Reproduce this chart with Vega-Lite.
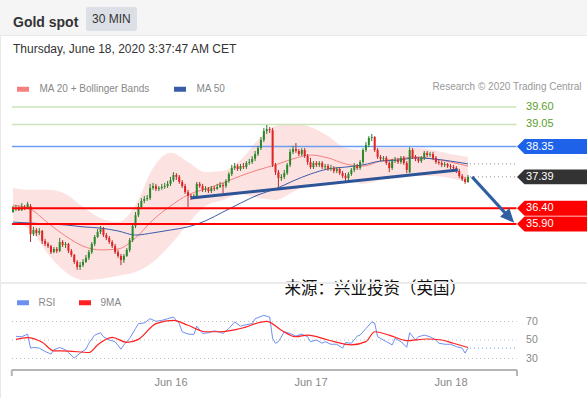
{
"$schema":"https://vega.github.io/schema/vega-lite/v6.json",
"width":587,"height":363,
"autosize":{"type":"none"},
"padding":{"left":0,"top":35,"right":0,"bottom":0},
"background":"#f5f5f5",
"title":{"text":"Gold spot","subtitle":"Thursday, June 18, 2020 3:37:47 AM CET","anchor":"start","frame":"group","dx":13,"offset":-48,"fontSize":14,"fontWeight":"bold","color":"#333333","subtitleFontSize":12,"subtitleColor":"#333333","subtitlePadding":14,"font":"Liberation Sans","subtitleFont":"Liberation Sans"},
"datasets":{
"candles":[
{"t":"2020-06-14T21:00","o":36.28,"h":36.47,"l":36.25,"c":36.37},
{"t":"2020-06-14T21:30","o":36.37,"h":36.50,"l":36.31,"c":36.41},
{"t":"2020-06-14T22:00","o":36.41,"h":36.47,"l":36.31,"c":36.34},
{"t":"2020-06-14T22:30","o":36.34,"h":36.56,"l":36.31,"c":36.44},
{"t":"2020-06-14T23:00","o":36.44,"h":36.50,"l":36.34,"c":36.41},
{"t":"2020-06-14T23:30","o":36.41,"h":36.60,"l":36.37,"c":36.53},
{"t":"2020-06-15T00:00","o":36.47,"h":36.53,"l":35.33,"c":35.58},
{"t":"2020-06-15T00:30","o":35.58,"h":35.81,"l":35.52,"c":35.71},
{"t":"2020-06-15T01:00","o":35.71,"h":35.77,"l":35.52,"c":35.62},
{"t":"2020-06-15T01:30","o":35.62,"h":35.77,"l":35.55,"c":35.68},
{"t":"2020-06-15T02:00","o":35.68,"h":35.71,"l":35.27,"c":35.36},
{"t":"2020-06-15T02:30","o":35.36,"h":35.43,"l":35.20,"c":35.27},
{"t":"2020-06-15T03:00","o":35.27,"h":35.33,"l":35.14,"c":35.20},
{"t":"2020-06-15T03:30","o":35.20,"h":35.24,"l":34.95,"c":35.01},
{"t":"2020-06-15T04:00","o":35.01,"h":35.17,"l":34.98,"c":35.11},
{"t":"2020-06-15T04:30","o":35.11,"h":35.17,"l":34.98,"c":35.05},
{"t":"2020-06-15T05:00","o":35.05,"h":35.46,"l":35.01,"c":35.33},
{"t":"2020-06-15T05:30","o":35.33,"h":35.39,"l":35.17,"c":35.24},
{"t":"2020-06-15T06:00","o":35.24,"h":35.33,"l":35.14,"c":35.27},
{"t":"2020-06-15T06:30","o":35.27,"h":35.30,"l":34.98,"c":35.05},
{"t":"2020-06-15T07:00","o":35.05,"h":35.11,"l":34.86,"c":34.92},
{"t":"2020-06-15T07:30","o":34.92,"h":34.95,"l":34.64,"c":34.70},
{"t":"2020-06-15T08:00","o":34.70,"h":34.76,"l":34.45,"c":34.54},
{"t":"2020-06-15T08:30","o":34.54,"h":34.70,"l":34.45,"c":34.60},
{"t":"2020-06-15T09:00","o":34.60,"h":34.79,"l":34.54,"c":34.70},
{"t":"2020-06-15T09:30","o":34.70,"h":34.92,"l":34.67,"c":34.83},
{"t":"2020-06-15T10:00","o":34.83,"h":35.08,"l":34.76,"c":35.01},
{"t":"2020-06-15T10:30","o":35.01,"h":35.33,"l":34.95,"c":35.27},
{"t":"2020-06-15T11:00","o":35.27,"h":35.55,"l":35.20,"c":35.49},
{"t":"2020-06-15T11:30","o":35.49,"h":35.74,"l":35.46,"c":35.65},
{"t":"2020-06-15T12:00","o":35.65,"h":35.84,"l":35.58,"c":35.74},
{"t":"2020-06-15T12:30","o":35.74,"h":35.81,"l":35.49,"c":35.55},
{"t":"2020-06-15T13:00","o":35.55,"h":35.62,"l":35.39,"c":35.46},
{"t":"2020-06-15T13:30","o":35.46,"h":35.52,"l":35.27,"c":35.33},
{"t":"2020-06-15T14:00","o":35.33,"h":35.39,"l":35.14,"c":35.20},
{"t":"2020-06-15T14:30","o":35.20,"h":35.27,"l":34.95,"c":35.01},
{"t":"2020-06-15T15:00","o":35.01,"h":35.08,"l":34.83,"c":34.89},
{"t":"2020-06-15T15:30","o":34.89,"h":34.95,"l":34.60,"c":34.76},
{"t":"2020-06-15T16:00","o":34.76,"h":34.95,"l":34.67,"c":34.89},
{"t":"2020-06-15T16:30","o":34.89,"h":35.14,"l":34.86,"c":35.08},
{"t":"2020-06-15T17:00","o":35.08,"h":35.46,"l":35.01,"c":35.39},
{"t":"2020-06-15T17:30","o":35.39,"h":35.90,"l":35.33,"c":35.84},
{"t":"2020-06-15T18:00","o":35.84,"h":36.28,"l":35.77,"c":36.18},
{"t":"2020-06-15T18:30","o":36.18,"h":36.56,"l":36.12,"c":36.44},
{"t":"2020-06-15T19:00","o":36.44,"h":36.72,"l":36.37,"c":36.63},
{"t":"2020-06-15T19:30","o":36.63,"h":36.79,"l":36.56,"c":36.69},
{"t":"2020-06-15T20:00","o":36.69,"h":36.82,"l":36.63,"c":36.72},
{"t":"2020-06-15T20:30","o":36.72,"h":37.17,"l":36.66,"c":37.04},
{"t":"2020-06-15T21:00","o":37.04,"h":37.20,"l":36.98,"c":37.10},
{"t":"2020-06-15T21:30","o":37.10,"h":37.17,"l":36.94,"c":37.01},
{"t":"2020-06-15T22:00","o":37.01,"h":37.10,"l":36.94,"c":37.04},
{"t":"2020-06-15T22:30","o":37.04,"h":37.17,"l":36.98,"c":37.07},
{"t":"2020-06-15T23:00","o":37.07,"h":37.20,"l":37.01,"c":37.10},
{"t":"2020-06-15T23:30","o":37.10,"h":37.26,"l":37.04,"c":37.17},
{"t":"2020-06-16T00:00","o":37.17,"h":37.39,"l":37.10,"c":37.29},
{"t":"2020-06-16T00:30","o":37.29,"h":37.54,"l":37.23,"c":37.45},
{"t":"2020-06-16T01:00","o":37.45,"h":37.51,"l":37.29,"c":37.39},
{"t":"2020-06-16T01:30","o":37.39,"h":37.45,"l":37.17,"c":37.23},
{"t":"2020-06-16T02:00","o":37.23,"h":37.29,"l":37.04,"c":37.10},
{"t":"2020-06-16T02:30","o":37.10,"h":37.17,"l":36.85,"c":36.91},
{"t":"2020-06-16T03:00","o":36.91,"h":36.98,"l":36.44,"c":36.79},
{"t":"2020-06-16T03:30","o":36.79,"h":36.85,"l":36.66,"c":36.75},
{"t":"2020-06-16T04:00","o":36.75,"h":36.85,"l":36.69,"c":36.79},
{"t":"2020-06-16T04:30","o":36.79,"h":37.23,"l":36.72,"c":37.17},
{"t":"2020-06-16T05:00","o":37.17,"h":37.23,"l":37.04,"c":37.10},
{"t":"2020-06-16T05:30","o":37.10,"h":37.17,"l":36.91,"c":36.98},
{"t":"2020-06-16T06:00","o":36.98,"h":37.10,"l":36.91,"c":37.01},
{"t":"2020-06-16T06:30","o":37.01,"h":37.07,"l":36.88,"c":36.94},
{"t":"2020-06-16T07:00","o":36.94,"h":37.10,"l":36.88,"c":37.04},
{"t":"2020-06-16T07:30","o":37.04,"h":37.10,"l":36.94,"c":37.01},
{"t":"2020-06-16T08:00","o":37.01,"h":37.17,"l":36.98,"c":37.07},
{"t":"2020-06-16T08:30","o":37.07,"h":37.23,"l":37.04,"c":37.13},
{"t":"2020-06-16T09:00","o":37.13,"h":37.20,"l":36.88,"c":37.10},
{"t":"2020-06-16T09:30","o":37.10,"h":37.32,"l":37.04,"c":37.26},
{"t":"2020-06-16T10:00","o":37.26,"h":37.54,"l":37.20,"c":37.48},
{"t":"2020-06-16T10:30","o":37.48,"h":37.77,"l":37.42,"c":37.67},
{"t":"2020-06-16T11:00","o":37.67,"h":37.83,"l":37.61,"c":37.73},
{"t":"2020-06-16T11:30","o":37.73,"h":37.80,"l":37.58,"c":37.64},
{"t":"2020-06-16T12:00","o":37.64,"h":37.80,"l":37.58,"c":37.73},
{"t":"2020-06-16T12:30","o":37.73,"h":37.83,"l":37.64,"c":37.70},
{"t":"2020-06-16T13:00","o":37.70,"h":37.89,"l":37.64,"c":37.83},
{"t":"2020-06-16T13:30","o":37.83,"h":37.96,"l":37.77,"c":37.86},
{"t":"2020-06-16T14:00","o":37.86,"h":38.05,"l":37.80,"c":37.96},
{"t":"2020-06-16T14:30","o":37.96,"h":38.21,"l":37.89,"c":38.11},
{"t":"2020-06-16T15:00","o":38.11,"h":38.37,"l":38.05,"c":38.30},
{"t":"2020-06-16T15:30","o":38.30,"h":38.65,"l":38.24,"c":38.56},
{"t":"2020-06-16T16:00","o":38.56,"h":38.94,"l":38.49,"c":38.84},
{"t":"2020-06-16T16:30","o":38.84,"h":39.03,"l":38.75,"c":38.90},
{"t":"2020-06-16T17:00","o":38.90,"h":38.97,"l":38.78,"c":38.87},
{"t":"2020-06-16T17:30","o":38.87,"h":38.94,"l":37.70,"c":37.77},
{"t":"2020-06-16T18:00","o":37.77,"h":37.83,"l":37.45,"c":37.54},
{"t":"2020-06-16T18:30","o":37.54,"h":37.61,"l":37.07,"c":37.35},
{"t":"2020-06-16T19:00","o":37.35,"h":37.48,"l":37.26,"c":37.39},
{"t":"2020-06-16T19:30","o":37.39,"h":37.61,"l":37.32,"c":37.51},
{"t":"2020-06-16T20:00","o":37.51,"h":37.83,"l":37.45,"c":37.77},
{"t":"2020-06-16T20:30","o":37.77,"h":38.27,"l":37.70,"c":38.18},
{"t":"2020-06-16T21:00","o":38.18,"h":38.37,"l":38.11,"c":38.27},
{"t":"2020-06-16T21:30","o":38.27,"h":38.46,"l":38.15,"c":38.21},
{"t":"2020-06-16T22:00","o":38.21,"h":38.27,"l":38.05,"c":38.11},
{"t":"2020-06-16T22:30","o":38.11,"h":38.30,"l":38.05,"c":38.24},
{"t":"2020-06-16T23:00","o":38.24,"h":38.30,"l":37.99,"c":38.05},
{"t":"2020-06-16T23:30","o":38.05,"h":38.11,"l":37.77,"c":37.86},
{"t":"2020-06-17T00:00","o":37.86,"h":37.99,"l":37.64,"c":37.70},
{"t":"2020-06-17T00:30","o":37.70,"h":37.89,"l":37.64,"c":37.83},
{"t":"2020-06-17T01:00","o":37.83,"h":37.89,"l":37.70,"c":37.77},
{"t":"2020-06-17T01:30","o":37.77,"h":37.89,"l":37.70,"c":37.83},
{"t":"2020-06-17T02:00","o":37.83,"h":37.89,"l":37.64,"c":37.70},
{"t":"2020-06-17T02:30","o":37.70,"h":37.80,"l":37.61,"c":37.73},
{"t":"2020-06-17T03:00","o":37.73,"h":37.80,"l":37.58,"c":37.64},
{"t":"2020-06-17T03:30","o":37.64,"h":37.77,"l":37.58,"c":37.67},
{"t":"2020-06-17T04:00","o":37.67,"h":37.73,"l":37.51,"c":37.58},
{"t":"2020-06-17T04:30","o":37.58,"h":37.70,"l":37.51,"c":37.64},
{"t":"2020-06-17T05:00","o":37.64,"h":37.70,"l":37.45,"c":37.51},
{"t":"2020-06-17T05:30","o":37.51,"h":37.58,"l":37.35,"c":37.42},
{"t":"2020-06-17T06:00","o":37.42,"h":37.51,"l":37.23,"c":37.35},
{"t":"2020-06-17T06:30","o":37.35,"h":37.54,"l":37.29,"c":37.48},
{"t":"2020-06-17T07:00","o":37.48,"h":37.67,"l":37.42,"c":37.61},
{"t":"2020-06-17T07:30","o":37.61,"h":37.83,"l":37.54,"c":37.73},
{"t":"2020-06-17T08:00","o":37.73,"h":37.80,"l":37.61,"c":37.67},
{"t":"2020-06-17T08:30","o":37.67,"h":37.92,"l":37.61,"c":37.86},
{"t":"2020-06-17T09:00","o":37.86,"h":38.30,"l":37.80,"c":38.24},
{"t":"2020-06-17T09:30","o":38.24,"h":38.49,"l":38.18,"c":38.40},
{"t":"2020-06-17T10:00","o":38.40,"h":38.68,"l":38.33,"c":38.62},
{"t":"2020-06-17T10:30","o":38.62,"h":38.75,"l":38.52,"c":38.65},
{"t":"2020-06-17T11:00","o":38.65,"h":38.68,"l":38.18,"c":38.24},
{"t":"2020-06-17T11:30","o":38.24,"h":38.30,"l":37.96,"c":38.02},
{"t":"2020-06-17T12:00","o":38.02,"h":38.08,"l":37.89,"c":37.96},
{"t":"2020-06-17T12:30","o":37.96,"h":38.05,"l":37.89,"c":37.99},
{"t":"2020-06-17T13:00","o":37.99,"h":38.05,"l":37.77,"c":37.83},
{"t":"2020-06-17T13:30","o":37.83,"h":37.89,"l":37.54,"c":37.67},
{"t":"2020-06-17T14:00","o":37.67,"h":37.96,"l":37.61,"c":37.89},
{"t":"2020-06-17T14:30","o":37.89,"h":38.02,"l":37.83,"c":37.92},
{"t":"2020-06-17T15:00","o":37.92,"h":37.99,"l":37.80,"c":37.86},
{"t":"2020-06-17T15:30","o":37.86,"h":38.05,"l":37.80,"c":37.99},
{"t":"2020-06-17T16:00","o":37.99,"h":38.05,"l":37.77,"c":37.83},
{"t":"2020-06-17T16:30","o":37.83,"h":37.89,"l":37.51,"c":37.61},
{"t":"2020-06-17T17:00","o":37.54,"h":38.33,"l":37.51,"c":38.24},
{"t":"2020-06-17T17:30","o":38.24,"h":38.30,"l":37.96,"c":38.02},
{"t":"2020-06-17T18:00","o":38.02,"h":38.08,"l":37.89,"c":37.96},
{"t":"2020-06-17T18:30","o":37.96,"h":38.02,"l":37.83,"c":37.89},
{"t":"2020-06-17T19:00","o":37.89,"h":38.05,"l":37.83,"c":37.99},
{"t":"2020-06-17T19:30","o":37.99,"h":38.21,"l":37.92,"c":38.15},
{"t":"2020-06-17T20:00","o":38.15,"h":38.21,"l":38.02,"c":38.08},
{"t":"2020-06-17T20:30","o":38.08,"h":38.18,"l":38.02,"c":38.11},
{"t":"2020-06-17T21:00","o":38.11,"h":38.18,"l":37.92,"c":37.99},
{"t":"2020-06-17T21:30","o":37.99,"h":38.05,"l":37.80,"c":37.86},
{"t":"2020-06-17T22:00","o":37.86,"h":37.92,"l":37.77,"c":37.83},
{"t":"2020-06-17T22:30","o":37.83,"h":37.89,"l":37.70,"c":37.77},
{"t":"2020-06-17T23:00","o":37.77,"h":37.86,"l":37.70,"c":37.80},
{"t":"2020-06-17T23:30","o":37.80,"h":37.83,"l":37.67,"c":37.73},
{"t":"2020-06-18T00:00","o":37.73,"h":37.80,"l":37.64,"c":37.70},
{"t":"2020-06-18T00:30","o":37.70,"h":37.77,"l":37.58,"c":37.67},
{"t":"2020-06-18T01:00","o":37.67,"h":37.73,"l":37.51,"c":37.58},
{"t":"2020-06-18T01:30","o":37.58,"h":37.64,"l":37.35,"c":37.42},
{"t":"2020-06-18T02:00","o":37.42,"h":37.48,"l":37.26,"c":37.32},
{"t":"2020-06-18T02:30","o":37.32,"h":37.39,"l":37.17,"c":37.23},
{"t":"2020-06-18T03:00","o":37.23,"h":37.45,"l":37.20,"c":37.39}
],
"bands":[
{"t":"2020-06-14T21:00","up":37.04,"lo":35.96,"ma20":36.50,"ma50":35.96},
{"t":"2020-06-15T00:00","up":36.98,"lo":35.71,"ma20":36.37,"ma50":35.93},
{"t":"2020-06-15T03:00","up":36.98,"lo":34.95,"ma20":35.93,"ma50":35.90},
{"t":"2020-06-15T06:00","up":36.85,"lo":34.38,"ma20":35.52,"ma50":35.87},
{"t":"2020-06-15T09:00","up":36.44,"lo":34.13,"ma20":35.20,"ma50":35.81},
{"t":"2020-06-15T12:00","up":36.09,"lo":34.16,"ma20":35.08,"ma50":35.77},
{"t":"2020-06-15T15:00","up":35.96,"lo":34.26,"ma20":35.11,"ma50":35.68},
{"t":"2020-06-15T18:00","up":36.50,"lo":34.38,"ma20":35.46,"ma50":35.55},
{"t":"2020-06-15T21:00","up":37.67,"lo":34.70,"ma20":36.03,"ma50":35.62},
{"t":"2020-06-16T00:00","up":38.15,"lo":35.24,"ma20":36.47,"ma50":35.71},
{"t":"2020-06-16T03:00","up":37.86,"lo":35.90,"ma20":36.82,"ma50":35.81},
{"t":"2020-06-16T06:00","up":37.54,"lo":36.47,"ma20":37.01,"ma50":36.00},
{"t":"2020-06-16T09:00","up":37.58,"lo":36.66,"ma20":37.20,"ma50":36.28},
{"t":"2020-06-16T12:00","up":37.92,"lo":36.85,"ma20":37.42,"ma50":36.56},
{"t":"2020-06-16T15:00","up":38.56,"lo":36.72,"ma20":37.61,"ma50":36.82},
{"t":"2020-06-16T18:00","up":39.00,"lo":36.66,"ma20":37.77,"ma50":37.01},
{"t":"2020-06-16T21:00","up":39.06,"lo":36.91,"ma20":37.96,"ma50":37.26},
{"t":"2020-06-17T00:00","up":38.97,"lo":37.17,"ma20":38.08,"ma50":37.48},
{"t":"2020-06-17T03:00","up":38.68,"lo":37.23,"ma20":37.99,"ma50":37.64},
{"t":"2020-06-17T06:00","up":38.30,"lo":37.29,"ma20":37.80,"ma50":37.70},
{"t":"2020-06-17T09:00","up":38.24,"lo":37.17,"ma20":37.73,"ma50":37.77},
{"t":"2020-06-17T12:00","up":38.30,"lo":37.29,"ma20":37.89,"ma50":37.89},
{"t":"2020-06-17T15:00","up":38.30,"lo":37.35,"ma20":37.96,"ma50":37.92},
{"t":"2020-06-17T18:00","up":38.30,"lo":37.42,"ma20":38.02,"ma50":37.99},
{"t":"2020-06-17T21:00","up":38.24,"lo":37.42,"ma20":37.96,"ma50":37.96},
{"t":"2020-06-18T00:00","up":38.11,"lo":37.35,"ma20":37.86,"ma50":37.89},
{"t":"2020-06-18T03:00","up":38.02,"lo":37.23,"ma20":37.73,"ma50":37.80}
],
"rsi":[
{"t":"2020-06-14T21:30","rsi":54},{"t":"2020-06-14T22:30","rsi":53.5},{"t":"2020-06-14T23:30","rsi":56.4},
{"t":"2020-06-15T00:00","rsi":41.2},{"t":"2020-06-15T00:30","rsi":42},{"t":"2020-06-15T01:30","rsi":41.2},
{"t":"2020-06-15T02:30","rsi":37.6},{"t":"2020-06-15T03:30","rsi":34.8},{"t":"2020-06-15T04:00","rsi":39.4},
{"t":"2020-06-15T05:00","rsi":41.9},{"t":"2020-06-15T06:00","rsi":39.4},{"t":"2020-06-15T06:30","rsi":36.5},
{"t":"2020-06-15T07:30","rsi":30.5},{"t":"2020-06-15T08:30","rsi":35.8},{"t":"2020-06-15T09:30","rsi":40.1},
{"t":"2020-06-15T10:00","rsi":46.5},{"t":"2020-06-15T11:00","rsi":55.3},{"t":"2020-06-15T12:00","rsi":57.8},
{"t":"2020-06-15T12:30","rsi":53.5},{"t":"2020-06-15T13:30","rsi":50},{"t":"2020-06-15T14:30","rsi":48.2},
{"t":"2020-06-15T15:30","rsi":40.1},{"t":"2020-06-15T16:00","rsi":44.7},{"t":"2020-06-15T17:00","rsi":51.8},
{"t":"2020-06-15T18:00","rsi":62.4},{"t":"2020-06-15T18:30","rsi":67.7},{"t":"2020-06-15T19:30","rsi":68.4},
{"t":"2020-06-15T20:30","rsi":73},{"t":"2020-06-15T21:30","rsi":70.2},{"t":"2020-06-15T22:30","rsi":71.2},
{"t":"2020-06-15T23:30","rsi":73},{"t":"2020-06-16T00:30","rsi":74.8},{"t":"2020-06-16T01:30","rsi":67.7},
{"t":"2020-06-16T02:00","rsi":58.9},{"t":"2020-06-16T03:00","rsi":56.4},{"t":"2020-06-16T04:00","rsi":56},
{"t":"2020-06-16T04:30","rsi":64.9},{"t":"2020-06-16T05:30","rsi":57.1},{"t":"2020-06-16T06:30","rsi":57.8},
{"t":"2020-06-16T07:30","rsi":59.9},{"t":"2020-06-16T08:00","rsi":59.2},{"t":"2020-06-16T09:00","rsi":57.1},
{"t":"2020-06-16T10:00","rsi":62.4},{"t":"2020-06-16T11:00","rsi":69.5},{"t":"2020-06-16T12:00","rsi":64.9},
{"t":"2020-06-16T12:30","rsi":65.9},{"t":"2020-06-16T14:00","rsi":67.7},{"t":"2020-06-16T14:30","rsi":73},
{"t":"2020-06-16T15:30","rsi":75.5},{"t":"2020-06-16T16:00","rsi":76.6},{"t":"2020-06-16T17:00","rsi":74.8},
{"t":"2020-06-16T17:30","rsi":51.8},{"t":"2020-06-16T18:00","rsi":46.5},{"t":"2020-06-16T18:30","rsi":48.2},
{"t":"2020-06-16T19:30","rsi":58.9},{"t":"2020-06-16T20:30","rsi":57.1},{"t":"2020-06-16T21:30","rsi":54.2},
{"t":"2020-06-16T22:30","rsi":56.4},{"t":"2020-06-16T23:30","rsi":53.5},{"t":"2020-06-17T00:00","rsi":48.2},
{"t":"2020-06-17T01:00","rsi":50},{"t":"2020-06-17T02:00","rsi":46.5},{"t":"2020-06-17T02:30","rsi":48.2},
{"t":"2020-06-17T03:30","rsi":45.4},{"t":"2020-06-17T04:30","rsi":45.4},{"t":"2020-06-17T05:30","rsi":41.2},
{"t":"2020-06-17T06:00","rsi":47.2},{"t":"2020-06-17T07:00","rsi":46.5},{"t":"2020-06-17T08:00","rsi":54.2},
{"t":"2020-06-17T08:30","rsi":55.3},{"t":"2020-06-17T09:30","rsi":62.4},{"t":"2020-06-17T10:30","rsi":69.5},
{"t":"2020-06-17T11:00","rsi":68.4},{"t":"2020-06-17T11:30","rsi":53.5},{"t":"2020-06-17T12:00","rsi":51.8},
{"t":"2020-06-17T13:00","rsi":48.2},{"t":"2020-06-17T14:00","rsi":44.7},{"t":"2020-06-17T14:30","rsi":51.8},
{"t":"2020-06-17T15:30","rsi":48.2},{"t":"2020-06-17T16:30","rsi":42.2},{"t":"2020-06-17T17:00","rsi":57.8},
{"t":"2020-06-17T18:00","rsi":50},{"t":"2020-06-17T18:30","rsi":53.5},{"t":"2020-06-17T19:30","rsi":55.3},
{"t":"2020-06-17T20:30","rsi":53.5},{"t":"2020-06-17T21:30","rsi":50},{"t":"2020-06-17T22:00","rsi":46.5},
{"t":"2020-06-17T23:00","rsi":45.4},{"t":"2020-06-18T00:00","rsi":45.4},{"t":"2020-06-18T01:00","rsi":42.9},
{"t":"2020-06-18T02:00","rsi":41.2},{"t":"2020-06-18T02:30","rsi":35.8},{"t":"2020-06-18T03:00","rsi":41.2}
],
"rsima":[
{"t":"2020-06-14T21:30","ma":50.7},{"t":"2020-06-14T23:30","ma":52.5},{"t":"2020-06-15T02:00","ma":47.5},
{"t":"2020-06-15T04:00","ma":38.3},{"t":"2020-06-15T06:30","ma":38},{"t":"2020-06-15T10:00","ma":36.5},
{"t":"2020-06-15T11:30","ma":44.7},{"t":"2020-06-15T14:00","ma":52.8},{"t":"2020-06-15T16:30","ma":47.5},
{"t":"2020-06-15T18:30","ma":50.7},{"t":"2020-06-15T21:30","ma":67.7},{"t":"2020-06-16T00:30","ma":71.2},
{"t":"2020-06-16T03:00","ma":65.9},{"t":"2020-06-16T06:00","ma":58.9},{"t":"2020-06-16T08:30","ma":58.9},
{"t":"2020-06-16T12:00","ma":62.4},{"t":"2020-06-16T16:30","ma":70.2},{"t":"2020-06-16T19:00","ma":60.6},
{"t":"2020-06-16T21:30","ma":53.5},{"t":"2020-06-16T23:30","ma":55.3},{"t":"2020-06-17T03:00","ma":50},
{"t":"2020-06-17T07:00","ma":44.7},{"t":"2020-06-17T09:30","ma":48.2},{"t":"2020-06-17T11:00","ma":58.9},
{"t":"2020-06-17T13:30","ma":55.3},{"t":"2020-06-17T16:30","ma":49.3},{"t":"2020-06-17T20:00","ma":51.1},
{"t":"2020-06-17T22:30","ma":50},{"t":"2020-06-18T00:30","ma":46.5},{"t":"2020-06-18T03:00","ma":41.9}
],
"levels":[
{"level":39.60,"kind":"resistance"},{"level":39.05,"kind":"resistance"},{"level":38.35,"kind":"pivot"},
{"level":37.39,"kind":"last"},{"level":36.40,"kind":"target"},{"level":35.90,"kind":"target"}
],
"ext":[{"p":37.39},{"p":37.80}],
"rsigrid":[{"v":30},{"v":50},{"v":70}],
"rsiext":[{"v":41.2}],
"trend":[{"t":"2020-06-16T03:30","p":36.72},{"t":"2020-06-18T01:15","p":37.61}],
"arrow":[{"t":"2020-06-18T03:42","p":37.39},{"t":"2020-06-18T10:06","p":36.10}],
"arrowhead":[{"t":"2020-06-18T10:06","p":36.10}]
},
"resolve":{"scale":{"y":"independent","color":"independent"},"axis":{"y":"independent"},"legend":{"color":"independent"}},
"layer":[
{"layer":[
{"data":{"name":"bands"},"mark":{"type":"area","interpolate":"monotone","fill":"#fde2e2","opacity":1},
 "encoding":{"x":{"field":"t","type":"temporal","title":null,"scale":{"domain":[{"year":2020,"month":6,"date":14,"hours":18,"minutes":46},{"year":2020,"month":6,"date":18,"hours":23,"minutes":24}],"nice":false,"padding":0}},
  "y":{"field":"up","type":"quantitative","scale":{"domain":[34,39.9],"range":[249.08,62.51],"nice":false,"zero":false},
   "axis":{"orient":"left","title":"Research © 2020 Trading Central","titleX":581,"titleY":51,"titleAngle":0,"titleAlign":"right","titleBaseline":"middle","titleColor":"#999999","titleFontSize":10,"titleFontWeight":"normal","labels":false,"domain":false,"ticks":false,"grid":false}},
  "y2":{"field":"lo"}}},
{"data":{"values":[{}]},"mark":{"type":"rule","color":"#ebebeb","strokeWidth":2},
 "encoding":{"y":{"datum":34.034,"type":"quantitative","scale":{"domain":[34,39.9],"range":[249.08,62.51],"nice":false,"zero":false}}}},
{"data":{"name":"bands"},"mark":{"type":"line","interpolate":"monotone","strokeWidth":1},
 "encoding":{"x":{"field":"t","type":"temporal","title":null,"scale":{"domain":[{"year":2020,"month":6,"date":14,"hours":18,"minutes":46},{"year":2020,"month":6,"date":18,"hours":23,"minutes":24}],"nice":false,"padding":0}},
  "y":{"field":"ma20","type":"quantitative","scale":{"domain":[34,39.9],"range":[249.08,62.51],"nice":false,"zero":false}},
  "color":{"datum":"MA 20 + Bollinger Bands","type":"nominal","scale":{"domain":["MA 20 + Bollinger Bands","MA 50"],"range":["#f77f7f","#3a5ca8"]},
   "legend":{"title":null,"orient":"none","legendX":14.5,"legendY":45.5,"direction":"horizontal","symbolType":"M-1,0L1,0","symbolSize":144,"symbolStrokeWidth":5,"labelFontSize":10,"labelColor":"#888888","labelOffset":8,"columnPadding":13}}}},
{"data":{"name":"bands"},"mark":{"type":"line","interpolate":"monotone","strokeWidth":1},
 "encoding":{"x":{"field":"t","type":"temporal","title":null},
  "y":{"field":"ma50","type":"quantitative","scale":{"domain":[34,39.9],"range":[249.08,62.51],"nice":false,"zero":false}},
  "color":{"datum":"MA 50","type":"nominal"}}},
{"data":{"name":"levels"},"transform":[{"filter":"datum.kind == 'resistance'"}],"mark":{"type":"rule","color":"#c9e4b8","strokeWidth":1.5},
 "encoding":{"x":{"datum":{"year":2020,"month":6,"date":14,"hours":20,"minutes":50},"type":"temporal"},"x2":{"datum":{"year":2020,"month":6,"date":18,"hours":11,"minutes":19}},
  "y":{"field":"level","type":"quantitative","scale":{"domain":[34,39.9],"range":[249.08,62.51],"nice":false,"zero":false}}}},
{"data":{"name":"levels"},"transform":[{"filter":"datum.kind == 'pivot'"}],"mark":{"type":"rule","color":"#6d9cf0","strokeWidth":1.5},
 "encoding":{"x":{"datum":{"year":2020,"month":6,"date":14,"hours":20,"minutes":50},"type":"temporal"},"x2":{"datum":{"year":2020,"month":6,"date":18,"hours":11,"minutes":19}},
  "y":{"field":"level","type":"quantitative","scale":{"domain":[34,39.9],"range":[249.08,62.51],"nice":false,"zero":false}}}},
{"data":{"name":"candles"},"mark":{"type":"rule","strokeWidth":1},
 "encoding":{"x":{"field":"t","type":"temporal","title":null},
  "y":{"field":"l","type":"quantitative","scale":{"domain":[34,39.9],"range":[249.08,62.51],"nice":false,"zero":false}},"y2":{"field":"h"},
  "color":{"condition":{"test":"datum.c >= datum.o","value":"#2f7d2f"},"value":"#b03030"}}},
{"data":{"name":"candles"},"mark":{"type":"bar","size":2},
 "encoding":{"x":{"field":"t","type":"temporal","title":null,"scale":{"domain":[{"year":2020,"month":6,"date":14,"hours":18,"minutes":46},{"year":2020,"month":6,"date":18,"hours":23,"minutes":24}],"nice":false,"padding":0},"axis":{"values":[{"year":2020,"month":6,"date":16},{"year":2020,"month":6,"date":17},{"year":2020,"month":6,"date":18}],"format":"%b %d"}},
  "y":{"field":"o","type":"quantitative","scale":{"domain":[34,39.9],"range":[249.08,62.51],"nice":false,"zero":false}},"y2":{"field":"c"},
  "color":{"condition":{"test":"datum.c >= datum.o","value":"#2a8a2a"},"value":"#e52222"}}},
{"data":{"name":"levels"},"transform":[{"filter":"datum.kind == 'target'"}],"mark":{"type":"rule","color":"#ff0000","strokeWidth":2},
 "encoding":{"x":{"datum":{"year":2020,"month":6,"date":14,"hours":20,"minutes":50},"type":"temporal"},"x2":{"datum":{"year":2020,"month":6,"date":18,"hours":11,"minutes":19}},
  "y":{"field":"level","type":"quantitative","scale":{"domain":[34,39.9],"range":[249.08,62.51],"nice":false,"zero":false}}}},
{"data":{"name":"ext"},"mark":{"type":"rule","color":"#888888","strokeWidth":1,"strokeDash":[1,3]},
 "encoding":{"x":{"datum":{"year":2020,"month":6,"date":18,"hours":3,"minutes":20},"type":"temporal"},"x2":{"datum":{"year":2020,"month":6,"date":18,"hours":11,"minutes":19}},
  "y":{"field":"p","type":"quantitative","scale":{"domain":[34,39.9],"range":[249.08,62.51],"nice":false,"zero":false}}}},
{"data":{"name":"levels"},"transform":[{"filter":"datum.kind != 'resistance'"}],
 "mark":{"type":"point","shape":"M-1,0L-0.786,-0.214L1,-0.214L1,0.214L-0.786,0.214Z","size":4900,"filled":true,"opacity":1,"strokeWidth":0},
 "encoding":{"x":{"datum":{"year":2020,"month":6,"date":18,"hours":17,"minutes":24},"type":"temporal"},
  "y":{"field":"level","type":"quantitative","scale":{"domain":[34,39.9],"range":[249.08,62.51],"nice":false,"zero":false}},
  "color":{"condition":[{"test":"datum.kind == 'pivot'","value":"#1d62e8"},{"test":"datum.kind == 'last'","value":"#333333"}],"value":"#fe0000"}}},
{"data":{"name":"levels"},"mark":{"type":"text","align":"left","baseline":"middle","fontSize":11},
 "encoding":{"x":{"datum":{"year":2020,"month":6,"date":18,"hours":12,"minutes":57},"type":"temporal"},
  "y":{"field":"level","type":"quantitative","scale":{"domain":[34,39.9],"range":[249.08,62.51],"nice":false,"zero":false}},
  "text":{"field":"level","type":"quantitative","format":".2f"},
  "color":{"condition":{"test":"datum.kind == 'resistance'","value":"#5aa02c"},"value":"#ffffff"}}}
]},
{"layer":[
{"data":{"name":"rsigrid"},"mark":{"type":"rule","color":"#bbbbbb","strokeWidth":1,"strokeDash":[1,3]},
 "encoding":{"x":{"datum":{"year":2020,"month":6,"date":14,"hours":20,"minutes":50},"type":"temporal"},"x2":{"datum":{"year":2020,"month":6,"date":18,"hours":11,"minutes":19}},
  "y":{"field":"v","type":"quantitative","scale":{"domain":[10,90],"range":[342,268],"nice":false,"zero":false},
   "axis":{"orient":"right","title":"来源：兴业投资（英国）","titleX":-303,"titleY":253,"titleAngle":0,"titleAlign":"left","titleBaseline":"middle","titleColor":"#111111","titleFont":"Noto Sans CJK SC","titleFontSize":16.5,"titleFontWeight":"normal","labels":false,"domain":false,"ticks":false,"grid":false}}}},
{"data":{"name":"rsi"},"mark":{"type":"line","strokeWidth":1},
 "encoding":{"x":{"field":"t","type":"temporal","title":null,"scale":{"domain":[{"year":2020,"month":6,"date":14,"hours":18,"minutes":46},{"year":2020,"month":6,"date":18,"hours":23,"minutes":24}],"nice":false,"padding":0}},
  "y":{"field":"rsi","type":"quantitative","scale":{"domain":[10,90],"range":[342,268],"nice":false,"zero":false}},
  "color":{"datum":"RSI","type":"nominal","scale":{"domain":["RSI","9MA"],"range":["#6d8ff0","#ff2020"]},
   "legend":{"title":null,"orient":"none","legendX":14.5,"legendY":259,"direction":"horizontal","symbolType":"M-1,0L1,0","symbolSize":144,"symbolStrokeWidth":5,"labelFontSize":10,"labelColor":"#888888","labelOffset":7,"columnPadding":13}}}},
{"data":{"name":"rsima"},"mark":{"type":"line","strokeWidth":1.2,"interpolate":"monotone"},
 "encoding":{"x":{"field":"t","type":"temporal","title":null},
  "y":{"field":"ma","type":"quantitative","scale":{"domain":[10,90],"range":[342,268],"nice":false,"zero":false}},
  "color":{"datum":"9MA","type":"nominal"}}},
{"data":{"name":"rsiext"},"mark":{"type":"rule","color":"#6d8ff0","strokeWidth":1,"strokeDash":[1,3]},
 "encoding":{"x":{"datum":{"year":2020,"month":6,"date":18,"hours":3,"minutes":20},"type":"temporal"},"x2":{"datum":{"year":2020,"month":6,"date":18,"hours":11,"minutes":19}},
  "y":{"field":"v","type":"quantitative","scale":{"domain":[10,90],"range":[342,268],"nice":false,"zero":false}}}},
{"data":{"name":"rsigrid"},"mark":{"type":"text","align":"left","baseline":"middle","fontSize":10.5,"color":"#888888"},
 "encoding":{"x":{"datum":{"year":2020,"month":6,"date":18,"hours":12,"minutes":57},"type":"temporal"},
  "y":{"field":"v","type":"quantitative","scale":{"domain":[10,90],"range":[342,268],"nice":false,"zero":false}},
  "text":{"field":"v","type":"quantitative"}}},
{"data":{"values":[{}]},"mark":{"type":"rule","color":"#b5b5b5","strokeWidth":2},
 "encoding":{"x":{"datum":{"year":2020,"month":6,"date":14,"hours":20,"minutes":47},"type":"temporal"},"x2":{"datum":{"year":2020,"month":6,"date":18,"hours":11,"minutes":24}},
  "y":{"datum":17.57,"type":"quantitative","scale":{"domain":[10,90],"range":[342,268],"nice":false,"zero":false}}}},
{"data":{"values":[{}]},"mark":{"type":"rule","color":"#b5b5b5","strokeWidth":2},
 "encoding":{"x":{"datum":{"year":2020,"month":6,"date":14,"hours":20,"minutes":47},"type":"temporal"},
  "y":{"datum":17.57,"type":"quantitative","scale":{"domain":[10,90],"range":[342,268],"nice":false,"zero":false}},"y2":{"datum":11.08}}},
{"data":{"values":[{}]},"mark":{"type":"rule","color":"#b5b5b5","strokeWidth":2},
 "encoding":{"x":{"datum":{"year":2020,"month":6,"date":18,"hours":11,"minutes":24},"type":"temporal"},
  "y":{"datum":17.57,"type":"quantitative","scale":{"domain":[10,90],"range":[342,268],"nice":false,"zero":false}},"y2":{"datum":11.08}}}
]},
{"layer":[
{"data":{"name":"trend"},"mark":{"type":"line","strokeWidth":3},
 "encoding":{"x":{"field":"t","type":"temporal","title":null},
  "y":{"field":"p","type":"quantitative","scale":{"domain":[34,39.9],"range":[249.08,62.51],"nice":false,"zero":false},"axis":null},
  "color":{"datum":"30 MIN","type":"nominal","scale":{"domain":["30 MIN"],"range":["#2d5496"]},
   "legend":{"title":null,"orient":"none","legendX":86,"legendY":-28,"fillColor":"#dce0e6","padding":6,"cornerRadius":2,"symbolSize":0.01,"symbolStrokeWidth":0,"labelOffset":-12,"labelFontSize":12,"labelColor":"#333333"}}}},
{"data":{"name":"arrow"},"mark":{"type":"line","strokeWidth":3,"color":"#2f5f9f"},
 "encoding":{"x":{"field":"t","type":"temporal","title":null},
  "y":{"field":"p","type":"quantitative","scale":{"domain":[34,39.9],"range":[249.08,62.51],"nice":false,"zero":false},"axis":null}}},
{"data":{"name":"arrowhead"},"mark":{"type":"point","shape":"M1,0L-1,-0.9L-1,0.9Z","size":196,"angle":47.6,"filled":true,"opacity":1,"color":"#2f5f9f","strokeWidth":0},
 "encoding":{"x":{"field":"t","type":"temporal","title":null},
  "y":{"field":"p","type":"quantitative","scale":{"domain":[34,39.9],"range":[249.08,62.51],"nice":false,"zero":false},"axis":null}}}
]}
],
"config":{
 "font":"Liberation Sans",
 "view":{"fill":"#ffffff","stroke":"#e8e8e8"},
 "axisX":{"domain":false,"ticks":false,"grid":false,"labelColor":"#888888","labelFontSize":11,"labelPadding":6,"offset":-28,"title":null},
 "axisY":{"domain":false,"ticks":false,"grid":false,"labels":false}
}
}
